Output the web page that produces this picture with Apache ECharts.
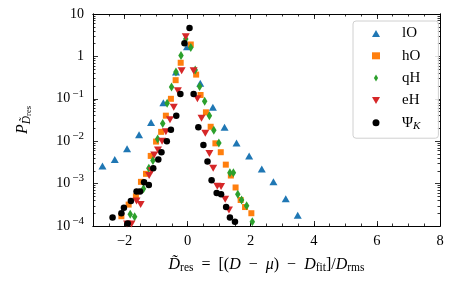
<!DOCTYPE html>
<html><head><meta charset="utf-8">
<script src="https://cdn.jsdelivr.net/npm/echarts@6/dist/echarts.min.js"></script>
<style>html,body{margin:0;padding:0;background:#fff}#c{width:463px;height:286px}</style>
</head><body><div id="c"></div>
<script>
// ---- data ----
const lO_x = [-2.70,-2.31,-1.92,-1.54,-1.16,-0.77,-0.37,-0.02,0.40,0.80,1.17,1.55,1.95,2.35,2.72,3.11,3.49];
const lO_y = [0.0026,0.0037,0.0066,0.0141,0.0275,0.081,0.427,1.70,0.234,0.063,0.0214,0.0091,0.0045,0.0022,0.0011,0.00044,0.00018];

const hO_x = [-2.10,-1.87,-1.64,-1.48,-1.32,-1.17,-1.00,-0.84,-0.69,-0.53,-0.38,-0.22,0.10,0.27,0.41,0.58,0.73,0.88,1.05,1.21,1.37,1.52,1.68,1.82,2.02];
const hO_y = [0.00017,0.00032,0.0005,0.0011,0.0017,0.0045,0.0098,0.0166,0.040,0.1,0.275,0.708,1.91,0.372,0.123,0.048,0.0219,0.0089,0.0055,0.0028,0.00155,0.00081,0.00041,0.00028,0.0002];

const qH_x = [-1.82,-1.68,-1.40,-1.23,-1.10,-0.95,-0.79,-0.65,-0.51,-0.37,-0.21,-0.06,0.10,0.24,0.38,0.54,0.69,0.83,0.99,1.34,1.45,1.59,1.71,1.87,2.05];
const qH_y = [0.00019,0.000166,0.00076,0.0023,0.0035,0.0112,0.0263,0.079,0.191,0.427,1.05,2.57,1.62,0.479,0.195,0.087,0.040,0.0182,0.0091,0.0018,0.0018,0.00056,0.00041,0.0003,0.000126];

const eH_x = [-1.92,-1.78,-1.62,-1.49,-1.22,-1.14,-1.06,-0.94,-0.81,-0.69,-0.56,-0.44,-0.31,-0.19,-0.06,0.19,0.31,0.44,0.56,0.69,0.81,0.94,1.06,1.19,1.31];
const eH_y = [0.000112,0.000112,0.00039,0.00032,0.00155,0.0020,0.0047,0.0062,0.0100,0.0166,0.032,0.063,0.155,0.457,2.92,0.457,0.1,0.035,0.0155,0.0051,0.0023,0.00087,0.00085,0.00043,0.00024];

const psi_x = [-2.38,-2.10,-2.02,-1.90,-1.80,-1.62,-1.51,-1.38,-1.23,-1.09,-0.93,-0.83,-0.66,-0.53,-0.36,-0.23,-0.10,0.06,0.19,0.34,0.50,0.63,0.76,0.92,1.06,1.22,1.34,1.50];
const psi_y = [0.000158,0.0002,0.00027,0.000115,0.00039,0.00065,0.00065,0.00107,0.00093,0.0023,0.0037,0.0055,0.0100,0.0186,0.040,0.129,2.04,4.68,0.129,0.0214,0.0081,0.0033,0.0012,0.0006,0.00056,0.00028,0.000158,0.000126];

// ---- axes ticks ----
const xMajor = [-2,0,2,4,6,8];
const xMinor = [-3,-2.5,-2,-1.5,-1,-0.5,0,0.5,1,1.5,2,2.5,3,3.5,4,4.5,5,5.5,6,6.5,7,7.5,8];
const yMajor = [0.0001,0.001,0.01,0.1,1,10];
const yMinor = [];
[0.0001,0.001,0.01,0.1,1].forEach(d => { for (let k = 2; k <= 9; k++) yMinor.push(+(d*k).toPrecision(3)); });

const FONT = 'Liberation Serif';
const zip = (a,b) => a.map((v,i)=>[v,b[i]]);
const DOWN_TRI = 'path://M0,0L8,0L4,7Z';
const THIN_DIAMOND = 'path://M3,0L6,5L3,10L0,5Z';

const chart = echarts.init(document.getElementById('c'), null, {renderer:'canvas'});
const tickStyle = {color:'#000', width:0.8};
function xAx(pos, custom, len, labels, extra) {
  return Object.assign({
    type:'value', position:pos, min:-3, max:8, interval:0.5,
    axisLine:{show:true, onZero:false, lineStyle:{color:'#000', width:0.9}},
    axisTick:{show:true, inside:true, length:len, customValues:custom, lineStyle:tickStyle},
    axisLabel:{show:labels, customValues:xMajor, margin:8, color:'#000', fontFamily:FONT, fontSize:14.5,
      formatter: v => (v<0?'\u2212':'') + Math.abs(v)},
    splitLine:{show:false}
  }, extra||{});
}
function yAx(pos, custom, len, labels, extra) {
  return Object.assign({
    type:'log', position:pos, min:0.0001, max:10, logBase:10,
    axisLine:{show:true, onZero:false, lineStyle:{color:'#000', width:0.9}},
    axisTick:{show:true, inside:true, length:len, customValues:custom, lineStyle:tickStyle},
    axisLabel:{show:labels, customValues:yMajor, margin:9, color:'#000', fontFamily:FONT, fontSize:14,
      formatter: v => { const e = Math.round(Math.log10(v)); if (e===0) return '{b|1}'; if (e===1) return '{b|10}'; return '{b|10}{s|\u2212' + Math.abs(e) + '}'; },
      rich:{ b:{fontFamily:FONT, fontSize:14, color:'#000'}, s:{fontFamily:FONT, fontSize:11, color:'#000', padding:[0,0,10,2]} }},
    splitLine:{show:false}, minorTick:{show:false}
  }, extra||{});
}

const sym = (name, color, idx, symbol, size) => ({
  name, type:'scatter', xAxisIndex:0, yAxisIndex:0,
  data: idx, symbol, symbolSize: size,
  itemStyle:{color, opacity:1}, emphasis:{disabled:true}, clip:true
});

chart.setOption({
  animation:false,
  backgroundColor:'#fff',
  grid:{left:93, right:23, top:14, bottom:60, containLabel:false},
  xAxis:[
    xAx('bottom', xMajor, 5, true, {
      name:'{i|D\u0303}{sub|res}{n|\u2002=\u2002[(}{i|D}{n|\u2002\u2212\u2002}{i|\u03BC}{n|)\u2002\u2212\u2002}{i|D}{sub|fit}{n|]/}{i|D}{sub|rms}',
      nameLocation:'middle', nameGap:29,
      nameTextStyle:{ rich:{
        i:{fontFamily:FONT, fontStyle:'italic', fontSize:16, color:'#000'},
        n:{fontFamily:FONT, fontSize:16, color:'#000'},
        sub:{fontFamily:FONT, fontSize:11.5, color:'#000', padding:[7,0,0,0]}
      }}
    }),
    xAx('bottom', xMinor, 2.5, false),
    xAx('top', xMajor, 5, false),
    xAx('top', xMinor, 2.5, false)
  ],
  yAxis:[
    yAx('left', yMajor, 5, true, {
      name:'{i|P}{s|D\u0303}{ss|res}', nameLocation:'middle', nameGap:60, nameRotate:90,
      nameTextStyle:{ rich:{
        i:{fontFamily:FONT, fontStyle:'italic', fontSize:16, color:'#000'},
        s:{fontFamily:FONT, fontStyle:'italic', fontSize:11.5, color:'#000', padding:[8,0,0,0]},
        ss:{fontFamily:FONT, fontSize:8.5, color:'#000', padding:[12,0,0,0]}
      }}
    }),
    yAx('left', yMinor, 2.5, false),
    yAx('right', yMajor, 5, false),
    yAx('right', yMinor, 2.5, false)
  ],
  legend:{
    orient:'vertical', left:353, top:21,
    itemWidth:8, itemHeight:7, itemGap:7.3,
    padding:[5,18,7,19],
    backgroundColor:'rgba(255,255,255,0.85)', borderColor:'#d0d0d0', borderWidth:1, borderRadius:3,
    textStyle:{fontFamily:FONT, fontSize:15, color:'#000', lineHeight:14,
      rich:{ g:{width:17, fontSize:15}, n:{fontFamily:FONT, fontSize:15, color:'#000'},
             sub:{fontFamily:FONT, fontStyle:'italic', fontSize:11, color:'#000', padding:[6,0,0,0]} }},
    formatter: n => '{g|\u00a0}' + (n === 'PsiK' ? '{n|\u03A8}{sub|K}' : '{n|' + n + '}'),
    data:[{name:'lO', icon:'triangle'},{name:'hO', icon:'rect'},{name:'qH', icon:THIN_DIAMOND},{name:'eH', icon:DOWN_TRI},{name:'PsiK', icon:'circle'}]
  },
  series:[
    sym('lO', '#1f77b4', zip(lO_x, lO_y), 'triangle', [8,7]),
    sym('hO', '#ff7f0e', zip(hO_x, hO_y), 'rect', 6),
    sym('qH', '#2ca02c', zip(qH_x, qH_y), 'diamond', [5.5,9]),
    sym('eH', '#d62728', zip(eH_x, eH_y), DOWN_TRI, [8,7]),
    sym('PsiK', '#000000', zip(psi_x, psi_y), 'circle', 6.5)
  ]
});
</script></body></html>
